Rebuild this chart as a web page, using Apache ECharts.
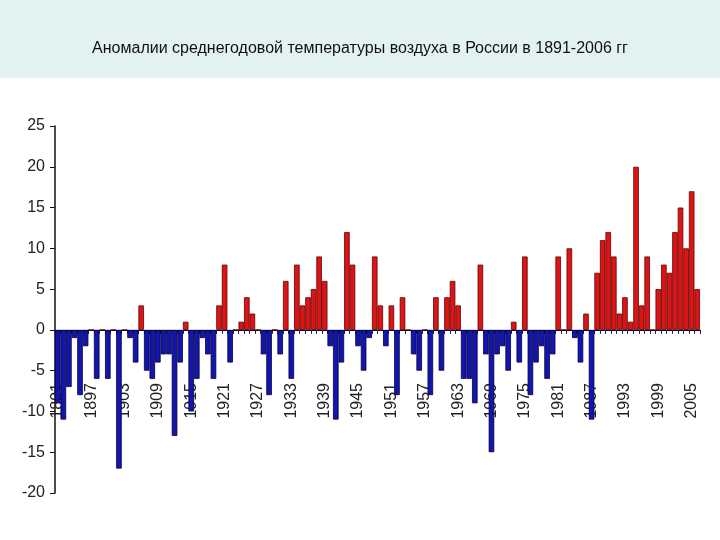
<!DOCTYPE html>
<html>
<head>
<meta charset="utf-8">
<script src="https://cdn.jsdelivr.net/npm/echarts@6/dist/echarts.min.js"></script>
<style>
  html, body { margin: 0; padding: 0; background: #ffffff; }
  #chart { width: 720px; height: 540px; }
</style>
</head>
<body>
<div id="chart"></div>
<script>
// годы (категории оси X)
var years = [
  1891, 1892, 1893, 1894, 1895, 1896, 1897, 1898, 1899, 1900,
  1901, 1902, 1903, 1904, 1905, 1906, 1907, 1908, 1909, 1910,
  1911, 1912, 1913, 1914, 1915, 1916, 1917, 1918, 1919, 1920,
  1921, 1922, 1923, 1924, 1925, 1926, 1927, 1928, 1929, 1930,
  1931, 1932, 1933, 1934, 1935, 1936, 1937, 1938, 1939, 1940,
  1941, 1942, 1943, 1944, 1945, 1946, 1947, 1948, 1949, 1950,
  1951, 1952, 1953, 1954, 1955, 1956, 1957, 1958, 1959, 1960,
  1961, 1962, 1963, 1964, 1965, 1966, 1967, 1968, 1969, 1970,
  1971, 1972, 1973, 1974, 1975, 1976, 1977, 1978, 1979, 1980,
  1981, 1982, 1983, 1984, 1985, 1986, 1987, 1988, 1989, 1990,
  1991, 1992, 1993, 1994, 1995, 1996, 1997, 1998, 1999, 2000,
  2001, 2002, 2003, 2004, 2005, 2006
]
// аномалии
var anomalies = [
  -9, -11, -7, -1, -8, -2, 0, -6, 0, -6,
  0, -17, 0, -1, -4, 3, -5, -6, -4, -3,
  -3, -13, -4, 1, -10, -6, -1, -3, -6, 3,
  8, -4, 0, 1, 4, 2, 0, -3, -8, 0,
  -3, 6, -6, 8, 3, 4, 5, 9, 6, -2,
  -11, -4, 12, 8, -2, -5, -1, 9, 3, -2,
  3, -8, 4, 0, -3, -5, 0, -8, 4, -5,
  4, 6, 3, -6, -6, -9, 8, -3, -15, -3,
  -2, -5, 1, -4, 9, -8, -4, -2, -6, -3,
  9, 0, 10, -1, -4, 2, -11, 7, 11, 12,
  9, 2, 4, 1, 20, 3, 9, 0, 5, 8,
  7, 12, 15, 10, 17, 5
]
var yTicks = [-20, -15, -10, -5, 0, 5, 10, 15, 20, 25]

var warm = { color: '#de1414', borderColor: '#5a0505' }
var cold = { color: '#1414ae', borderColor: '#00003c' }

var barData = anomalies.map(function (v) {
  var s = v >= 0 ? warm : cold
  return { value: v, itemStyle: { color: s.color, borderColor: s.borderColor, borderWidth: 0.8 } }
})

var chart = echarts.init(document.getElementById('chart'))
var option = {
  backgroundColor: '#ffffff',
  animation: false,
  graphic: [
    {
      type: 'rect',
      left: 0, top: 0,
      shape: { width: 720, height: 78 },
      style: { fill: '#e2f2f2' },
      z: -1
    }
  ],
  title: {
    text: 'Аномалии среднегодовой температуры воздуха в России в 1891-2006 гг',
    left: 'center',
    top: 36,
    textStyle: {
      fontFamily: 'Liberation Sans',
      fontSize: 16,
      fontWeight: 'normal',
      color: '#111111'
    }
  },
  grid: {
    left: 55,
    right: 20,
    top: 126,
    bottom: 47,
    containLabel: false,
    outerBoundsMode: 'none'
  },
  xAxis: [
    {
      // линия нуля с рисками
      type: 'category',
      data: years,
      axisLine: { onZero: true, lineStyle: { color: '#000050', width: 1 } },
      axisTick: { show: true, interval: 0, length: 4, lineStyle: { color: '#222222' } },
      axisLabel: { show: false },
      splitLine: { show: false }
    },
    {
      // подписи годов
      type: 'category',
      data: years,
      position: 'bottom',
      axisLine: { show: false, onZero: false },
      axisTick: { show: false },
      axisLabel: {
        interval: 5,
        rotate: 90,
        margin: -110,
        fontFamily: 'Liberation Sans',
        fontSize: 16,
        color: '#222222'
      },
      splitLine: { show: false }
    }
  ],
  yAxis: {
    type: 'value',
    min: yTicks[0],
    max: yTicks[yTicks.length - 1],
    interval: 5,
    axisLine: { show: true, lineStyle: { color: '#111111', width: 1.5 } },
    axisTick: { show: true, length: 5, lineStyle: { color: '#111111' } },
    axisLabel: {
      margin: 10,
      fontFamily: 'Liberation Sans',
      fontSize: 16,
      color: '#222222'
    },
    splitLine: { show: false }
  },
  series: [
    {
      type: 'bar',
      xAxisIndex: 0,
      data: barData,
      barCategoryGap: '0%'
    }
  ]
}
chart.setOption(option)
</script>
</body>
</html>
